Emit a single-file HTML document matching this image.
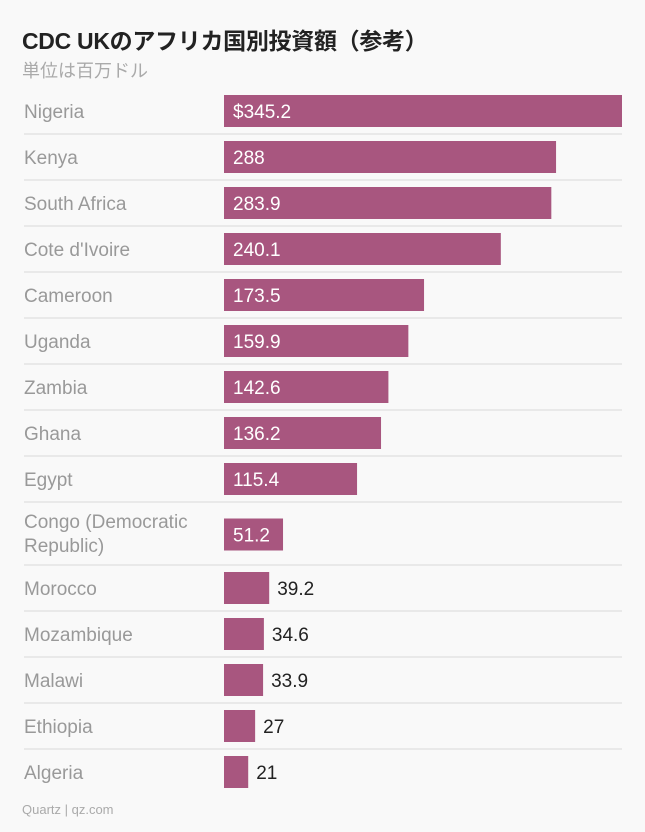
<!DOCTYPE html>
<html><head><meta charset="utf-8"><style>
body{margin:0;background:#f9f9f9;width:645px;height:832px;overflow:hidden;font-family:"Liberation Sans","Noto Sans CJK JP",sans-serif;}
#title{position:absolute;left:22px;top:22px;font-size:23px;font-weight:bold;color:#222;margin:0;letter-spacing:-0.3px}
#sub{position:absolute;left:22px;top:57px;font-size:18px;color:#aaa}
#foot{position:absolute;left:22px;top:802px;font-size:13px;color:#aaa}
</style></head><body>
<div id="title">CDC UKのアフリカ国別投資額（参考）</div>
<div id="sub">単位は百万ドル</div>
<svg id="chart" width="645" height="832" style="position:absolute;left:0;top:0"></svg>
<div id="foot">Quartz | qz.com</div>
<script>
const categories=["Nigeria","Kenya","South Africa","Cote d'Ivoire","Cameroon","Uganda","Zambia","Ghana","Egypt","Congo (Democratic|Republic)","Morocco","Mozambique","Malawi","Ethiopia","Algeria"];
const values=[345.2,288,283.9,240.1,173.5,159.9,142.6,136.2,115.4,51.2,39.2,34.6,33.9,27,21];
const valueLabels=["$345.2","288","283.9","240.1","173.5","159.9","142.6","136.2","115.4","51.2","39.2","34.6","33.9","27","21"];
const svg=document.getElementById('chart');
const NS='http://www.w3.org/2000/svg';
const x0=224,x1=622,maxV=345.2;
const xs=v=>x0+(v/maxV)*(x1-x0);
let y=88;
function mk(t,a){const e=document.createElementNS(NS,t);for(const k in a)e.setAttribute(k,a[k]);svg.appendChild(e);return e;}
categories.forEach((c,i)=>{
  const lines=c.split('|');
  const rowH=lines.length>1?63:46;
  const by=y+7+(rowH-46)/2+ (lines.length>1?1:0);
  const bar=mk('rect',{x:x0,y:by,width:xs(values[i])-x0,height:32,fill:'#a8567f'});
  
  
  const inside=values[i]>=45;
  const vl=mk('text',{x:inside?x0+9:xs(values[i])+8,y:by+23,'font-size':19,fill:inside?'#fff':'#222','font-family':'Liberation Sans, sans-serif'});
  vl.textContent=valueLabels[i];
  
  
  lines.forEach((ln,j)=>{
    const t=mk('text',{x:24,y:(lines.length>1?y+26+j*24:by+23),'font-size':19,fill:'#999','font-family':'Liberation Sans, sans-serif'});
    t.textContent=ln;
    
    
  });
  y+=rowH;
  if(i<categories.length-1){
    const l=mk('line',{x1:24,x2:622,y1:y,y2:y,stroke:'#e4e4e4','stroke-width':1.5});
    
    
  }
});
</script>
</body></html>
